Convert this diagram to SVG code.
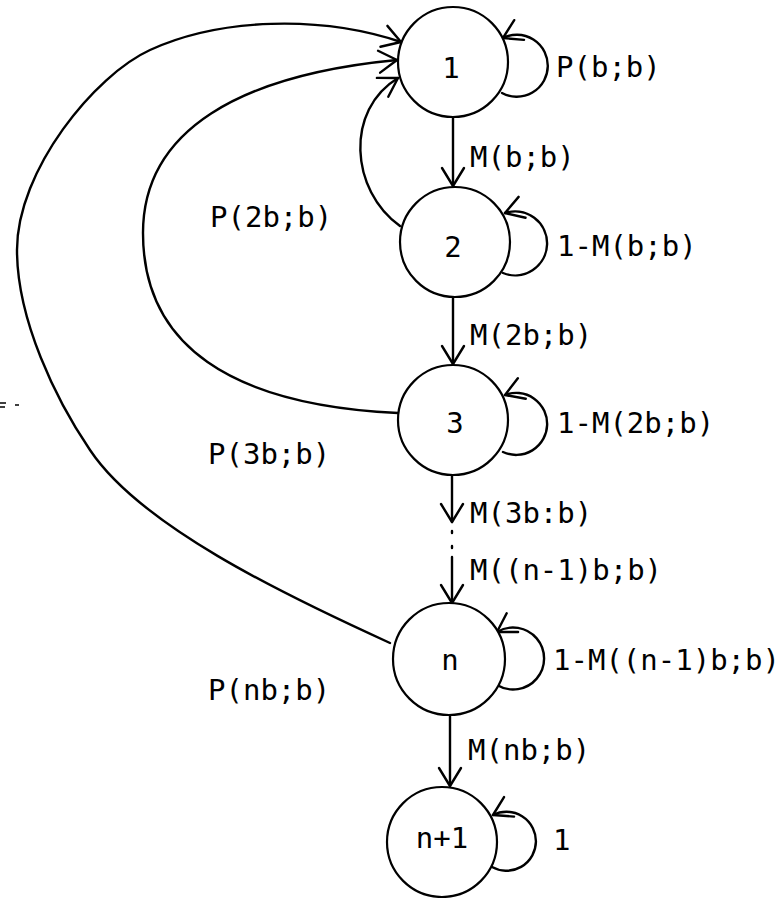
<svg xmlns="http://www.w3.org/2000/svg" width="782" height="898" viewBox="0 0 782 898">
  <style>
    .node { fill: #fff; stroke: #000; stroke-width: 2.2; }
    .edge { fill: none; stroke: #000; stroke-width: 2.4; stroke-linecap: round; }
    .lbl { font-family: "DejaVu Sans Mono", "Liberation Mono", monospace; font-size: 29px; fill: #000; }
    .mid { text-anchor: middle; }
  </style>
  <defs>
    <marker id="arrow" markerUnits="userSpaceOnUse" viewBox="-20 -13 22 26" markerWidth="22" markerHeight="26" refX="0" refY="0" orient="auto">
      <path d="M -18 -11 L 0 0 L -18 11" fill="none" stroke="#000" stroke-width="2.4" stroke-linecap="round" stroke-linejoin="round"/>
    </marker>
  </defs>
  <rect width="782" height="898" fill="#fff"/>

  <!-- connectors -->
  <g id="connectors">
    <!-- return arcs to state 1 -->
    <path class="edge" marker-end="url(#arrow)" d="M 390 643 C 280 593, 140 525, 90 450 C 56 400, 17 320, 17 250 C 17 170, 95 75, 150 50 C 220 18, 320 15, 401 42"/>
    <path class="edge" marker-end="url(#arrow)" d="M 398 413 C 230 405, 143 345, 143 233 C 143 130, 240 75, 397 60"/>
    <path class="edge" marker-end="url(#arrow)" d="M 400 226 C 350 190, 345 110, 398 78"/>

    <!-- forward transitions -->
    <path class="edge" marker-end="url(#arrow)" d="M 453 118 L 453 186"/>
    <path class="edge" marker-end="url(#arrow)" d="M 453 298 L 453 364"/>
    <path class="edge" marker-end="url(#arrow)" d="M 452 475 L 452 522"/>
    <path class="edge" d="M 452 531 L 452 533 M 452 546 L 452 548"/>
    <path class="edge" marker-end="url(#arrow)" d="M 452 557 L 452 603"/>
    <path class="edge" marker-end="url(#arrow)" d="M 450 715 L 450 786"/>

    <!-- self loops -->
    <path class="edge" marker-end="url(#arrow)" d="M 502 93 A 31 31 0 1 0 503 38"/>
    <path class="edge" marker-end="url(#arrow)" d="M 503 273 A 32 32 0 1 0 505 213"/>
    <path class="edge" marker-end="url(#arrow)" d="M 503 452 A 31 31 0 1 0 505 395"/>
    <path class="edge" marker-end="url(#arrow)" d="M 497 685 A 31 31 0 1 0 497 632"/>
    <path class="edge" marker-end="url(#arrow)" d="M 492 867 A 29.5 29.5 0 1 0 493 815"/>
  </g>

  <!-- states -->
  <g id="state-1">
    <circle class="node" cx="453" cy="62" r="55"/>
    <text class="lbl mid" x="451" y="78">1</text>
  </g>
  <g id="state-2">
    <circle class="node" cx="455" cy="242" r="55"/>
    <text class="lbl mid" x="453" y="257">2</text>
  </g>
  <g id="state-3">
    <circle class="node" cx="453" cy="420" r="55"/>
    <text class="lbl mid" x="455" y="433">3</text>
  </g>
  <g id="state-n">
    <circle class="node" cx="449" cy="659" r="56"/>
    <text class="lbl mid" x="450" y="670">n</text>
  </g>
  <g id="state-n1">
    <circle class="node" cx="442" cy="842" r="55"/>
    <text class="lbl mid" x="442" y="848">n+1</text>
  </g>

  <!-- transition labels -->
  <g id="labels">
    <text class="lbl" x="556" y="77">P(b;b)</text>
    <text class="lbl" x="470" y="167">M(b;b)</text>
    <text class="lbl" x="210" y="227">P(2b;b)</text>
    <text class="lbl" x="557" y="256">1-M(b;b)</text>
    <text class="lbl" x="470" y="345">M(2b;b)</text>
    <text class="lbl" x="557" y="433">1-M(2b;b)</text>
    <text class="lbl" x="208" y="464">P(3b;b)</text>
    <text class="lbl" x="470" y="523">M(3b:b)</text>
    <text class="lbl" x="470" y="580">M((n-1)b;b)</text>
    <text class="lbl" x="553" y="670">1-M((n-1)b;b)</text>
    <text class="lbl" x="208" y="700">P(nb;b)</text>
    <text class="lbl" x="468" y="760">M(nb;b)</text>
    <text class="lbl" x="553" y="850">1</text>
  </g>

  <!-- stray marks at the left edge -->
  <path d="M 0 403 L 6 403 M 0 407 L 5 407 M 15 405 L 19 405" stroke="#000" stroke-width="1.6" fill="none"/>
</svg>
